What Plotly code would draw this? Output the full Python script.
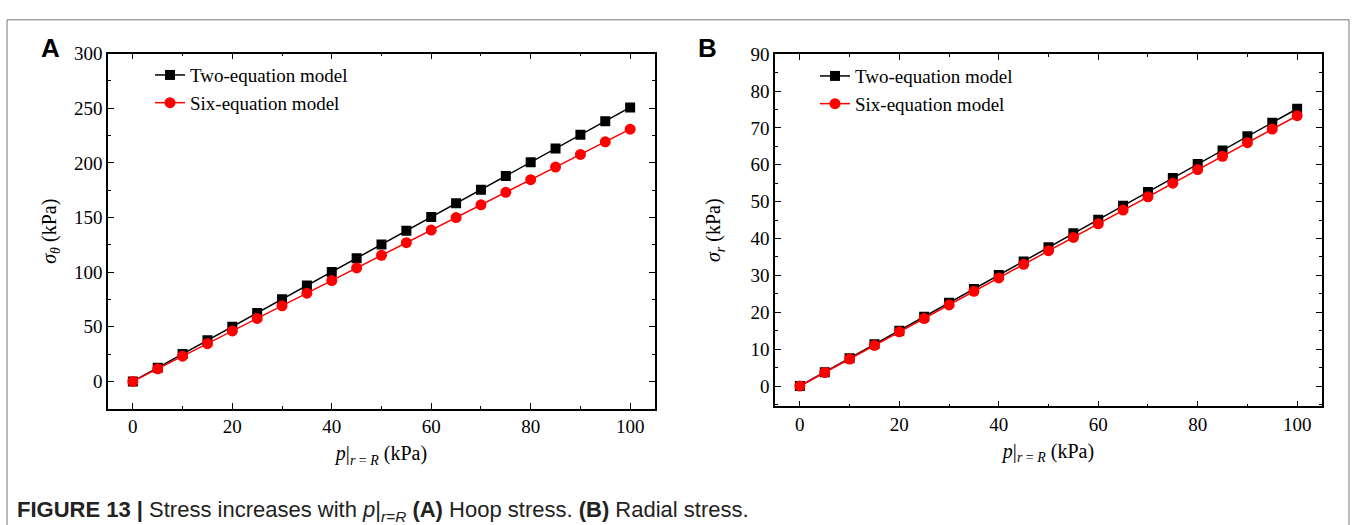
import plotly.graph_objects as go

W, H = 1356, 525

p_vals = [0, 5, 10, 15, 20, 25, 30, 35, 40, 45, 50, 55, 60, 65, 70, 75, 80, 85, 90, 95, 100]

hoop_two = [0, 12.5, 25, 37.6, 50.1, 62.6, 75.2, 87.7, 100.2, 112.8, 125.3, 137.9, 150.4,
            163.0, 175.5, 188.0, 200.6, 213.1, 225.7, 238.2, 250.8]
hoop_six = [0, 11.5, 23.1, 34.6, 46.2, 57.7, 69.2, 80.8, 92.3, 103.9, 115.4, 127.0, 138.5,
            150.0, 161.6, 173.1, 184.7, 196.2, 207.8, 219.3, 230.9]

rad_two = [0, 3.76, 7.52, 11.3, 15.0, 18.8, 22.6, 26.3, 30.1, 33.8, 37.6, 41.4, 45.1,
           48.9, 52.6, 56.4, 60.2, 63.9, 67.7, 71.4, 75.2]
rad_six = [0, 3.67, 7.33, 11.0, 14.7, 18.3, 22.0, 25.7, 29.3, 33.0, 36.7, 40.3, 44.0,
           47.7, 51.3, 55.0, 58.7, 62.3, 66.0, 69.7, 73.3]

series_names = ["Two-equation model", "Six-equation model"]

SERIF = "Liberation Serif, Times New Roman, serif"
SANS = "Liberation Sans, Arial, sans-serif"

fig = go.Figure()

def add_pair(xa, ya, y_two, y_six, legend):
    fig.add_trace(go.Scatter(
        x=p_vals, y=y_two, mode="lines+markers", name=series_names[0],
        line=dict(color="black", width=1.5),
        marker=dict(symbol="square", size=10, color="black"),
        xaxis=xa, yaxis=ya, legend=legend))
    fig.add_trace(go.Scatter(
        x=p_vals, y=y_six, mode="lines+markers", name=series_names[1],
        line=dict(color="red", width=1.5),
        marker=dict(symbol="circle", size=11, color="red"),
        xaxis=xa, yaxis=ya, legend=legend))

add_pair("x", "y", hoop_two, hoop_six, "legend")
add_pair("x2", "y2", rad_two, rad_six, "legend2")

def px_x(v):
    return v / W

def px_y(v):
    return 1 - v / H

axis_common = dict(
    showline=True, linecolor="black", linewidth=1.6, mirror="ticks",
    ticks="inside", ticklen=6, tickwidth=1.2, tickcolor="black",
    showgrid=False, zeroline=False,
    tickfont=dict(family=SERIF, size=19, color="black"),
)
minor_common = dict(ticklen=3, ticks="inside", tickcolor="black", tickwidth=1)

xtitle = "<i>p</i>|<sub><i>r</i> = <i>R</i></sub> (kPa)"
title_font = dict(family=SERIF, size=20, color="black")

fig.update_layout(
    width=W, height=H,
    margin=dict(l=0, r=0, t=0, b=0),
    paper_bgcolor="white", plot_bgcolor="white",
    xaxis=dict(domain=[px_x(108), px_x(655)], range=[-5, 105], dtick=20, tick0=0,
               minor=dict(dtick=10, **minor_common),
               title=dict(text=xtitle, font=title_font, standoff=10),
               anchor="y", **axis_common),
    yaxis=dict(domain=[px_y(406.5), px_y(44.5)], range=[-25, 300], dtick=50, tick0=0,
               minor=dict(dtick=25, **minor_common),
               title=dict(text="<i>σ</i><sub><i>θ</i></sub> (kPa)", font=title_font, standoff=12),
               anchor="x", **axis_common),
    xaxis2=dict(domain=[px_x(775), px_x(1322)], range=[-5, 105], dtick=20, tick0=0,
                minor=dict(dtick=10, **minor_common),
                title=dict(text=xtitle, font=title_font, standoff=10),
                anchor="y2", **axis_common),
    yaxis2=dict(domain=[px_y(404), px_y(45)], range=[-5.5, 90], dtick=10, tick0=0,
                minor=dict(dtick=5, **minor_common),
                title=dict(text="<i>σ</i><sub><i>r</i></sub> (kPa)", font=title_font, standoff=24),
                anchor="x2", **axis_common),
    legend=dict(x=px_x(150), y=px_y(47), xanchor="left", yanchor="top",
                bgcolor="rgba(0,0,0,0)", font=dict(family=SERIF, size=19, color="black"),
                tracegroupgap=0, itemwidth=30),
    legend2=dict(x=px_x(815), y=px_y(48), xanchor="left", yanchor="top",
                 bgcolor="rgba(0,0,0,0)", font=dict(family=SERIF, size=19, color="black"),
                 tracegroupgap=0, itemwidth=30),
    shapes=[dict(type="rect", xref="paper", yref="paper",
                 x0=px_x(7), x1=px_x(1349), y0=-0.2, y1=px_y(10),
                 line=dict(color="#777777", width=1), fillcolor="rgba(0,0,0,0)", layer="below")],
    annotations=[
        dict(text="<b>A</b>", x=px_x(39), y=px_y(39), xref="paper", yref="paper",
             xanchor="left", yanchor="middle", showarrow=False,
             font=dict(family=SANS, size=26, color="black")),
        dict(text="<b>B</b>", x=px_x(696), y=px_y(39), xref="paper", yref="paper",
             xanchor="left", yanchor="middle", showarrow=False,
             font=dict(family=SANS, size=26, color="black")),
        dict(text="<b>FIGURE 13 |</b> Stress increases with <i>p</i>|<sub><i>r</i>=<i>R</i></sub> <b>(A)</b> Hoop stress. <b>(B)</b> Radial stress.",
             x=px_x(15), y=px_y(511), xref="paper", yref="paper",
             xanchor="left", yanchor="middle", showarrow=False,
             font=dict(family=SANS, size=22, color="#222222")),
    ],
)

fig.write_html("out.html")
